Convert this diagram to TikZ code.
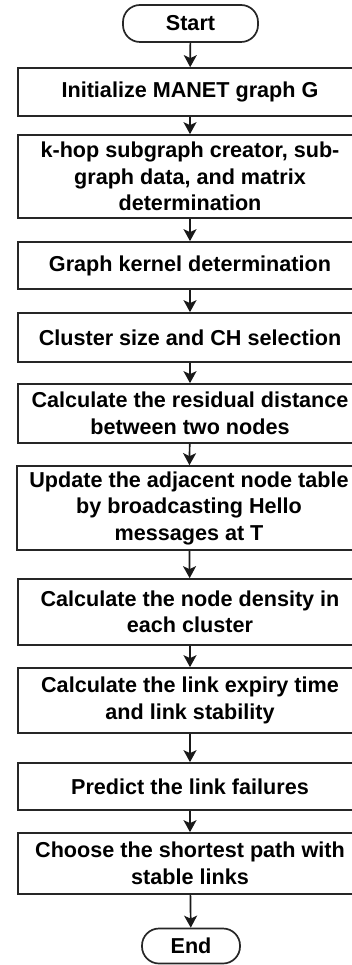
\documentclass[tikz,border=0pt]{standalone}
\usepackage{fontspec}
\setmainfont{Liberation Sans}
\usetikzlibrary{arrows.meta}
\begin{document}
\begin{tikzpicture}[x=1pt,y=-1pt,
  every node/.style={font=\fontsize{21.6}{26.5}\selectfont\bfseries, align=center, inner sep=0pt},
  procbox/.style={draw=black!85, line width=1.7pt, minimum width=344pt},
  termbox/.style={draw=black!85, line width=1.7pt, rounded corners=17pt},
  flow/.style={draw=black!90, line width=1.7pt, -{Stealth[length=12pt,width=13pt,inset=3pt]}}]
\useasboundingbox (0,0) rectangle (352,965);
\clip (0,0) rectangle (352,965);
\fill[white] (0,0) rectangle (352,965);
\node[termbox, minimum width=135pt, minimum height=37pt] (start) at (190.5,23.5) {Start};
\node[procbox, minimum height=48pt] (b1) at (190,92) {Initialize MANET graph G};
\node[procbox, minimum height=83pt] (b2) at (190,176.5) {k-hop subgraph creator, sub-\\graph data, and matrix\\determination};
\node[procbox, minimum height=47pt] (b3) at (190,265.5) {Graph kernel determination};
\node[procbox, minimum height=49pt] (b4) at (190,337.5) {Cluster size and CH selection};
\node[procbox, minimum height=59pt] (b5) at (190,413.5) {Calculate the residual distance\\between two nodes};
\node[procbox, minimum height=84pt] (b6) at (189,508) {Update the adjacent node table\\by broadcasting Hello\\messages at T};
\node[procbox, minimum height=66pt] (b7) at (190,612) {Calculate the node density in\\each cluster};
\node[procbox, minimum height=65pt] (b8) at (190,700.5) {Calculate the link expiry time\\and link stability};
\node[procbox, minimum height=47pt] (b9) at (190,786.5) {Predict the link failures};
\node[procbox, minimum height=61pt] (b10) at (190,863.5) {Choose the shortest path with\\stable links};
\node[termbox, minimum width=98pt, minimum height=35pt] (end) at (191,946) {End};
\draw[flow] (start) -- (b1);
\draw[flow] (b1) -- (b2);
\draw[flow] (b2) -- (b3);
\draw[flow] (b3) -- (b4);
\draw[flow] (b4) -- (b5);
\draw[flow] (b5) -- (b6);
\draw[flow] (b6) -- (b7);
\draw[flow] (b7) -- (b8);
\draw[flow] (b8) -- (b9);
\draw[flow] (b9) -- (b10);
\draw[flow] (b10) -- (end);
\end{tikzpicture}
\end{document}
